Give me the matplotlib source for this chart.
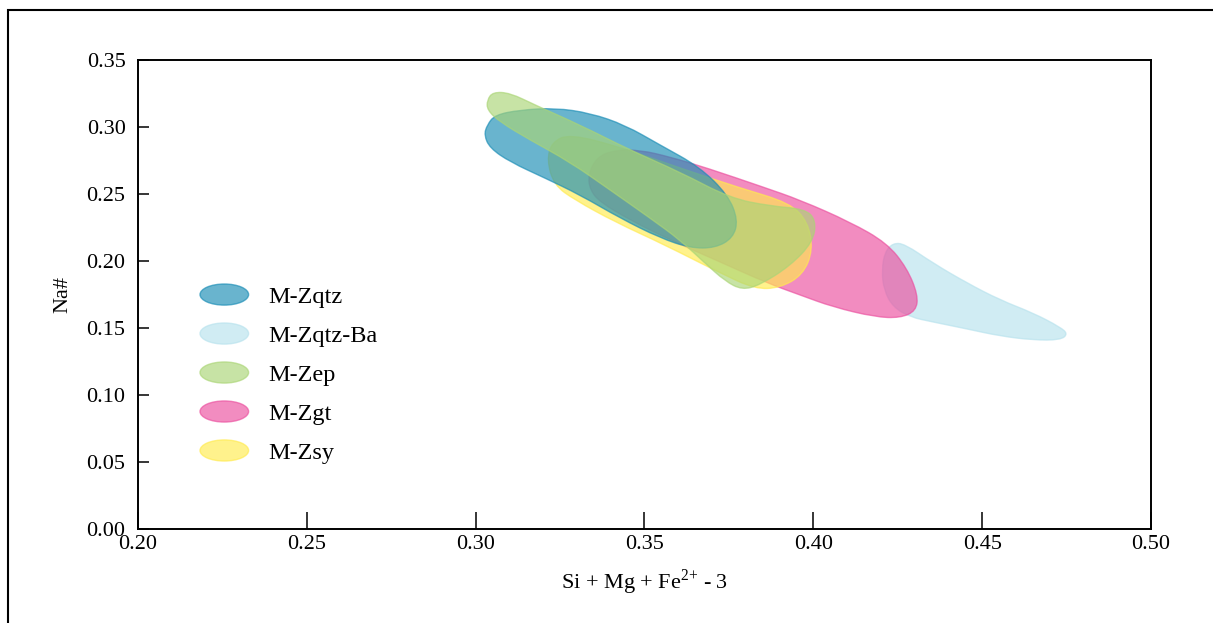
import matplotlib
matplotlib.use("Agg")
import matplotlib.pyplot as plt
import matplotlib.patches as mpatches
from matplotlib.path import Path
from matplotlib.legend_handler import HandlerPatch
import numpy as np

# outlines of the fields (x = Si+Mg+Fe2+-3, y = Na#)
zqtz_x = [0.3034, 0.3057, 0.3131, 0.3235, 0.3339, 0.3442, 0.3546, 0.3664, 0.3747, 0.3777,
          0.3762, 0.3709, 0.3635, 0.3546, 0.3427, 0.3309, 0.3205, 0.3102, 0.3042, 0.3025]
zqtz_y = [0.3015, 0.3090, 0.3127, 0.3142, 0.3104, 0.3015, 0.2866, 0.2701, 0.2493, 0.2306,
          0.2172, 0.2097, 0.2097, 0.2172, 0.2321, 0.2493, 0.2619, 0.2739, 0.2843, 0.2940]

zqtz_ba_x = [0.4203, 0.4212, 0.4236, 0.4271, 0.4354, 0.4455, 0.4553, 0.4651, 0.4731, 0.4754,
             0.4731, 0.4651, 0.4553, 0.4455, 0.4354, 0.4286, 0.4236, 0.4209]
zqtz_ba_y = [0.1933, 0.2067, 0.2134, 0.2127, 0.1985, 0.1836, 0.1709, 0.1612, 0.1507, 0.1455,
             0.1410, 0.1410, 0.1440, 0.1493, 0.1545, 0.1582, 0.1657, 0.1784]

zep_x = [0.3034, 0.3051, 0.3102, 0.3176, 0.3309, 0.3457, 0.3605, 0.3753, 0.3872, 0.3975,
         0.4008, 0.3999, 0.3931, 0.3842, 0.3789, 0.3738, 0.3679, 0.3605, 0.3516, 0.3398,
         0.3279, 0.3161, 0.3072, 0.3034]
zep_y = [0.3201, 0.3261, 0.3254, 0.3164, 0.3015, 0.2828, 0.2664, 0.2470, 0.2410, 0.2388,
         0.2306, 0.2142, 0.1963, 0.1821, 0.1784, 0.1851, 0.1985, 0.2157, 0.2321, 0.2530,
         0.2739, 0.2903, 0.3037, 0.3127]

zgt_x = [0.3333, 0.3359, 0.3413, 0.3487, 0.3576, 0.3685, 0.3851, 0.3961, 0.4109, 0.4218,
         0.4277, 0.4310, 0.4304, 0.4257, 0.4183, 0.4058, 0.3961, 0.3863, 0.3724, 0.3576,
         0.3457, 0.3368, 0.3339]
zgt_y = [0.2642, 0.2776, 0.2828, 0.2828, 0.2776, 0.2694, 0.2552, 0.2455, 0.2291, 0.2134,
         0.1948, 0.1746, 0.1627, 0.1575, 0.1582, 0.1657, 0.1746, 0.1836, 0.1993, 0.2157,
         0.2306, 0.2440, 0.2530]

zsy_x = [0.3211, 0.3226, 0.3279, 0.3427, 0.3605, 0.3783, 0.3931, 0.3984, 0.3999, 0.3969,
         0.3901, 0.3827, 0.3724, 0.3561, 0.3413, 0.3294, 0.3232]
zsy_y = [0.2754, 0.2888, 0.2948, 0.2851, 0.2694, 0.2545, 0.2433, 0.2291, 0.2082, 0.1896,
         0.1799, 0.1791, 0.1910, 0.2119, 0.2291, 0.2455, 0.2567]

labels = ["M-Zqtz", "M-Zqtz-Ba", "M-Zep", "M-Zgt", "M-Zsy"]
colors = ["#188cb5", "#b7e2ed", "#aad575", "#eb4e9e", "#ffeb4e"]
xticks = [0.20, 0.25, 0.30, 0.35, 0.40, 0.45, 0.50]
yticks = [0.00, 0.05, 0.10, 0.15, 0.20, 0.25, 0.30, 0.35]

plt.rcParams['font.family'] = ['Liberation Serif', 'DejaVu Serif']
plt.rcParams['mathtext.fontset'] = 'custom'
plt.rcParams['mathtext.rm'] = 'Liberation Serif'


def smooth_outline(xs, ys):
    # closed quadratic b-spline through the traced vertices
    pts = np.column_stack([xs, ys])
    mids = (pts + np.roll(pts, -1, axis=0)) / 2
    verts = [mids[-1]]
    codes = [Path.MOVETO]
    for p, m in zip(pts, mids):
        verts += [p, m]
        codes += [Path.CURVE3, Path.CURVE3]
    return Path(verts, codes)


class HandlerEllipse(HandlerPatch):
    def create_artists(self, legend, orig_handle, xdescent, ydescent,
                       width, height, fontsize, trans):
        center = (0.5 * width - xdescent, 0.5 * height - ydescent)
        p = mpatches.Ellipse(xy=center, width=width, height=height)
        self.update_prop(p, orig_handle, legend)
        p.set_transform(trans)
        return [p]


fig = plt.figure(figsize=(12.13, 6.23), dpi=100)
ax = fig.add_axes([138 / 1213, 94 / 623, 1013 / 1213, 469 / 623])

shapes = {
    "M-Zqtz": (zqtz_x, zqtz_y),
    "M-Zqtz-Ba": (zqtz_ba_x, zqtz_ba_y),
    "M-Zep": (zep_x, zep_y),
    "M-Zgt": (zgt_x, zgt_y),
    "M-Zsy": (zsy_x, zsy_y),
}
draw_order = ["M-Zqtz-Ba", "M-Zgt", "M-Zsy", "M-Zqtz", "M-Zep"]

handles = {}
for name in draw_order:
    c = colors[labels.index(name)]
    xs, ys = shapes[name]
    patch = mpatches.PathPatch(smooth_outline(xs, ys), facecolor=c, edgecolor=c,
                               alpha=0.65, lw=1.0)
    ax.add_patch(patch)
    handles[name] = patch

ax.set_xlim(0.2, 0.5)
ax.set_ylim(0, 0.35)
ax.set_xticks(xticks)
ax.set_yticks(yticks)
ax.set_xticklabels(["%.2f" % t for t in xticks])
ax.set_yticklabels(["%.2f" % t for t in yticks])
ax.tick_params(direction='in', labelsize=16, width=1.1)
ax.tick_params(axis='x', length=12, pad=4)
ax.tick_params(axis='y', length=8, pad=9)
for s in ax.spines.values():
    s.set_linewidth(1.4)

ax.set_xlabel(r"Si + Mg + Fe$^{\mathregular{2{+}}}$ - 3", fontsize=16, labelpad=10)
ax.set_ylabel("Na#", fontsize=16, labelpad=10)

ax.legend([handles[n] for n in labels], labels,
          handler_map={mpatches.PathPatch: HandlerEllipse()},
          loc='upper left', bbox_to_anchor=(200 / 1213, 1 - 284 / 623),
          bbox_transform=fig.transFigure, frameon=False, fontsize=17.5,
          borderpad=0, borderaxespad=0, handlelength=2.0, handleheight=0.96,
          handletextpad=0.8, labelspacing=0.62)

fig.add_artist(mpatches.Rectangle((8 / 1213, -0.5), 2, 0.5 + 1 - 10 / 623,
                                  transform=fig.transFigure, fill=False,
                                  ec='black', lw=1.5))

fig.savefig("out.png", dpi=100)
